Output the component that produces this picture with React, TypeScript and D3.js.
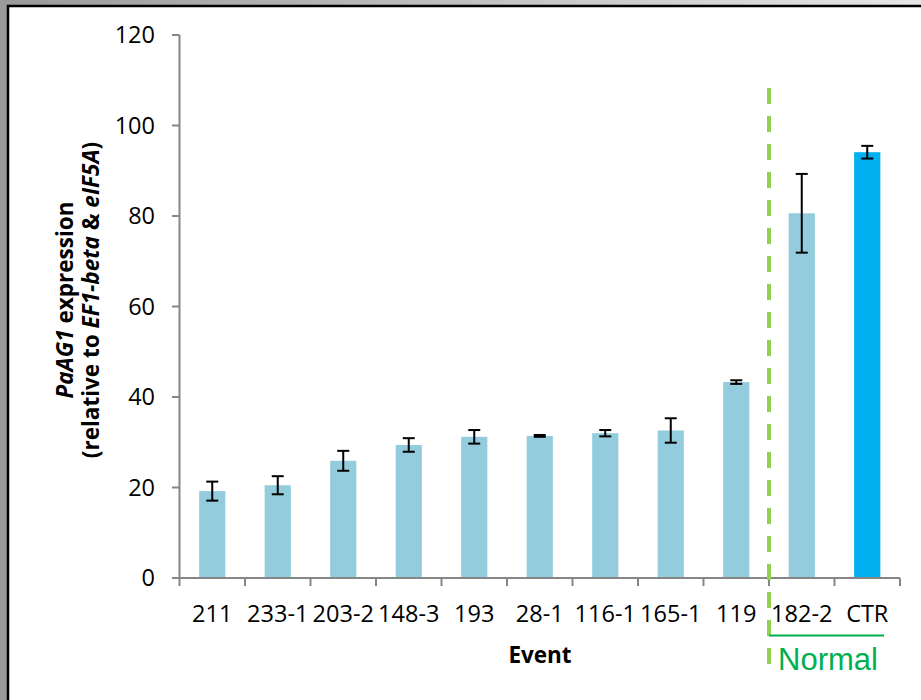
import React from "react";
import * as d3 from "d3";

// event lines
const events = ["211", "233-1", "203-2", "148-3", "193", "28-1", "116-1", "165-1", "119", "182-2", "CTR"];
const expression = [19.2, 20.5, 25.9, 29.4, 31.2, 31.4, 32.0, 32.6, 43.3, 80.6, 94.1];
const errors = [2.1, 2.0, 2.2, 1.5, 1.5, 0.2, 0.7, 2.7, 0.4, 8.7, 1.4];
const yTicks = [0, 20, 40, 60, 80, 100, 120];
const normalGroup = ["182-2", "CTR"];

const W = 921;
const H = 700;
const FONT = "'Open Sans', 'Liberation Sans', sans-serif";

export default function App() {
  const x = d3.scaleBand<string>().domain(events).range([179.5, 900]).paddingInner(0.6).paddingOuter(0.3);
  const y = d3.scaleLinear().domain([0, 120]).range([578, 35]);
  const step = x.step();
  const x0 = x.range()[0];
  const bounds = d3.range(events.length + 1).map((i) => x0 + i * step);

  const divX = x0 + events.indexOf(normalGroup[0]) * step;
  const axisColor = "#868686";

  return (
    <svg width={W} height={H} style={{ position: "absolute", left: 0, top: 0 }} fontFamily={FONT}>
      <defs>
        <linearGradient id="frame" x1="0" x2="1" y1="0" y2="0">
          <stop offset="0" stopColor="#9a9a9a" />
          <stop offset="1" stopColor="#e6e6e6" />
        </linearGradient>
      </defs>
      {/* slide-like frame */}
      <rect x={0} y={0} width={W} height={H} fill="url(#frame)" />
      <rect x={8} y={6} width={W} height={H} fill="#fff" stroke="#000" strokeWidth={2.5} />

      {/* y axis */}
      <line x1={179.5} x2={179.5} y1={y(120)} y2={y(0)} stroke={axisColor} strokeWidth={2} />
      {yTicks.map((t) => (
        <g key={t}>
          <line x1={172} x2={179.5} y1={y(t)} y2={y(t)} stroke={axisColor} strokeWidth={2} />
          <text x={155} y={y(t)} dy="0.36em" textAnchor="end" fontSize={23.5} fill="#000">
            {t}
          </text>
        </g>
      ))}

      {/* bars */}
      {events.map((e, i) => (
        <rect
          key={e}
          x={x(e)}
          y={y(expression[i])}
          width={x.bandwidth()}
          height={y(0) - y(expression[i])}
          fill={e === "CTR" ? "#00B0F0" : "#93CDDD"}
        />
      ))}

      {/* error bars */}
      {events.map((e, i) => {
        const cx = (x(e) as number) + x.bandwidth() / 2;
        const top = y(expression[i] + errors[i]);
        const bot = y(expression[i] - errors[i]);
        return (
          <g key={e} stroke="#000" strokeWidth={2}>
            <line x1={cx} x2={cx} y1={top} y2={bot} />
            <line x1={cx - 6} x2={cx + 6} y1={top} y2={top} />
            <line x1={cx - 6} x2={cx + 6} y1={bot} y2={bot} />
          </g>
        );
      })}

      {/* x axis */}
      <line x1={x0} x2={bounds[bounds.length - 1]} y1={y(0)} y2={y(0)} stroke={axisColor} strokeWidth={2} />
      {bounds.map((b, i) => (
        <line key={i} x1={b} x2={b} y1={y(0)} y2={y(0) + 8} stroke={axisColor} strokeWidth={2} />
      ))}
      {events.map((e) => (
        <text key={e} x={(x(e) as number) + x.bandwidth() / 2} y={622} textAnchor="middle" fontSize={23.5} fill="#000">
          {e}
        </text>
      ))}
      <text x={540} y={663} textAnchor="middle" fontSize={22.5} fontWeight="bold" fill="#000">
        Event
      </text>

      {/* y axis title */}
      <g transform="translate(73,300) rotate(-90)" fontSize={22.5} fontWeight="bold" textAnchor="middle" fill="#000">
        <text y={0}>
          <tspan fontStyle="italic">PaAG1</tspan> expression
        </text>
        <text y={26}>
          (relative to <tspan fontStyle="italic">EF1-beta</tspan> &amp; <tspan fontStyle="italic">eIF5A</tspan>)
        </text>
      </g>

      {/* divider + Normal group */}
      <line x1={divX} x2={divX} y1={88} y2={666} stroke="#92D050" strokeWidth={4} strokeDasharray="16 12" />
      <line x1={divX} x2={bounds[bounds.length - 1] - 16} y1={635.5} y2={635.5} stroke="#00B050" strokeWidth={2} />
      <text x={778} y={670} fontSize={31} fill="#00B050" fontFamily="'Liberation Sans', Arial, sans-serif">
        Normal
      </text>
    </svg>
  );
}
